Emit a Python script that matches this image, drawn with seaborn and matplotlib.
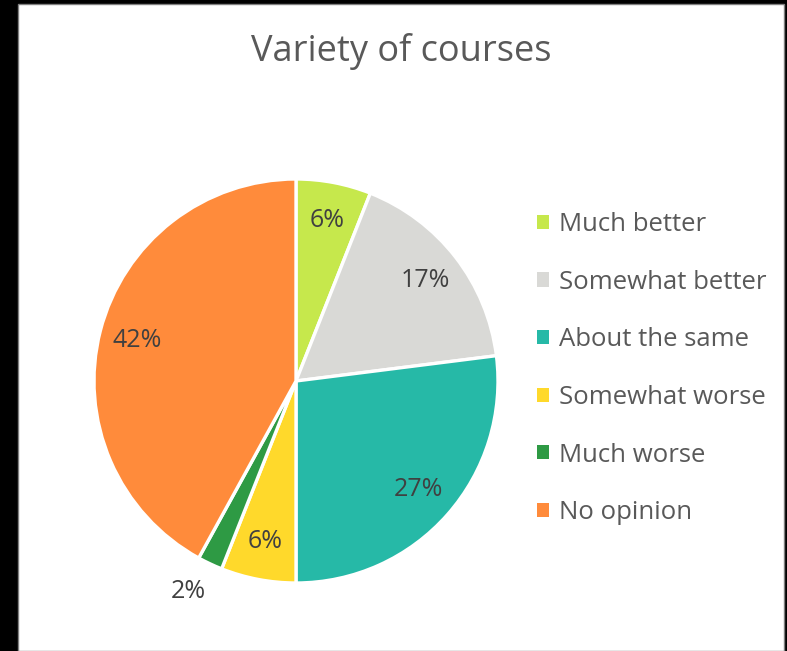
import matplotlib
matplotlib.use("Agg")
import matplotlib.pyplot as plt
import matplotlib.patches as mpatches
import numpy as np
import seaborn as sns

categories = ["Much better", "Somewhat better", "About the same",
              "Somewhat worse", "Much worse", "No opinion"]
shares = [6, 17, 27, 6, 2, 42]
colors = ["#C6E84C", "#D9D9D6", "#26B9A7", "#FFD92B", "#2E9A44", "#FF8B3B"]

sns.set_theme(style="white")
plt.rcParams["font.family"] = ["Open Sans", "DejaVu Sans"]

W, H = 787, 651
fig = plt.figure(figsize=(W / 100, H / 100), dpi=100, facecolor="black")

# white card inside the dark frame
fig.patches.append(mpatches.Rectangle((18 / W, 0), (784 - 18) / W, (H - 4) / H,
                                      transform=fig.transFigure, facecolor="white",
                                      edgecolor="#808080", linewidth=1, zorder=-5))

cx, cy, r = 296, 381, 202
ax = fig.add_axes([(cx - r) / W, (H - cy - r) / H, 2 * r / W, 2 * r / H])
ax.set_facecolor("none")

wedges, texts, autotexts = ax.pie(
    shares, colors=colors, startangle=90, counterclock=False, radius=1,
    autopct="%d%%", pctdistance=0.81,
    wedgeprops=dict(edgecolor="white", linewidth=2.4),
    textprops=dict(color="#404040", fontsize=18),
)
# small slice: put its label outside the pie
for w, t, v in zip(wedges, autotexts, shares):
    if v < 4:
        ang = np.deg2rad((w.theta1 + w.theta2) / 2 - 2)
        t.set_position((1.17 * np.cos(ang), 1.17 * np.sin(ang)))

ax.set_xlim(-1, 1)
ax.set_ylim(-1, 1)
ax.axis("off")

fig.text(401 / W, 1 - 51 / H, "Variety of courses", ha="center", va="center",
         fontsize=26, color="#595959")

handles = [mpatches.Patch(facecolor=c, edgecolor="none") for c in colors]
leg = fig.legend(handles, categories, loc="upper left",
                 bbox_to_anchor=(537 / W, 1 - 212 / H), frameon=False,
                 borderpad=0, borderaxespad=0,
                 fontsize=18.5, labelcolor="#595959", handlelength=0.47,
                 handleheight=0.47, handletextpad=0.4, labelspacing=1.27)

fig.savefig("out.png", dpi=100, facecolor=fig.get_facecolor())
